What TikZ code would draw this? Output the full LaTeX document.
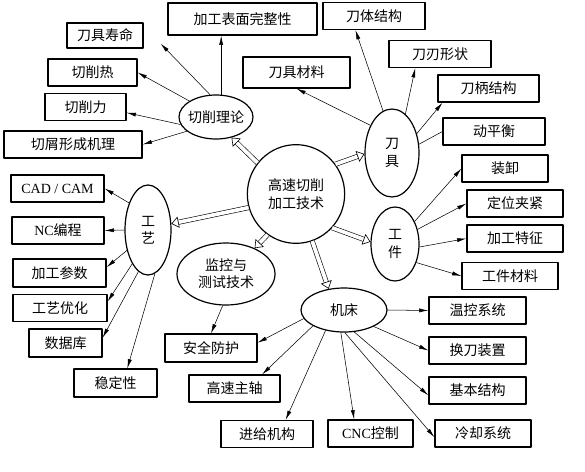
\documentclass[tikz,border=0pt]{standalone}
\usepackage{fontspec}
\setmainfont{Liberation Serif}
\newfontfamily\cjk{Noto Sans CJK SC}
\usetikzlibrary{shapes.geometric,arrows.meta,calc}
\tikzset{
	kuang/.style={draw,line width=0.9pt,inner sep=0pt,minimum height=20.25pt},
	tuoyuan/.style={draw,ellipse,line width=0.9pt,inner sep=0pt,align=center},
	jian/.style={->,line width=0.4pt},
	kong/.style={double,double distance=2.8pt,line width=0.45pt,-{Triangle[open,length=5.5pt,width=8.5pt]}}
}
\begin{document}
\begin{tikzpicture}[x=0.75pt,y=-0.75pt,line join=round,font=\cjk\fontsize{10.5}{13}\selectfont,>={Latex[length=7pt,width=3pt]}]
	\useasboundingbox (0,0) rectangle (585,471);
	\node[tuoyuan,minimum width=73pt,minimum height=74pt] (gs) at (296,194) {高速切削\\加工技术};
	\node[tuoyuan,minimum width=55.5pt,minimum height=33pt,inner xsep=-1.4pt] (ll) at (216,117) {切削理论};
	\node[tuoyuan,minimum width=40.5pt,minimum height=66pt] (dj) at (392,153) {刀\\具};
	\node[tuoyuan,minimum width=36pt,minimum height=55.5pt] (gj) at (395,244) {工\\件};
	\node[tuoyuan,minimum width=64.5pt,minimum height=33pt] (jc) at (344,310) {机床};
	\node[tuoyuan,minimum width=73.5pt,minimum height=46.5pt] (jk) at (226,274) {监控与\\测试技术};
	\node[tuoyuan,minimum width=34.5pt,minimum height=67.5pt] (gy) at (148,230) {工\\艺};
	
	\node[kuang,minimum width=111.75pt,minimum height=24pt] (wzx) at (242.5,19) {加工表面完整性};
	\node[kuang,minimum width=57pt,minimum height=18.75pt] (smu) at (105,35.5) {刀具寿命};
	\node[kuang,minimum width=66.75pt] (qxr) at (92.5,72.5) {切削热};
	\node[kuang,minimum width=60.75pt] (qxl) at (85.5,107) {切削力};
	\node[kuang,minimum width=103.5pt] (qxjl) at (73,144.5) {切屑形成机理};
	\node[kuang,minimum width=80.25pt,minimum height=23.25pt] (djcl) at (296.5,72.5) {刀具材料};
	\node[kuang,minimum width=76.5pt] (dtjg) at (374,16) {刀体结构};
	\node[kuang,minimum width=76.5pt] (drxz) at (440,54) {刀刃形状};
	\node[kuang,minimum width=75.75pt] (dbjg) at (488.5,88.5) {刀柄结构};
	\node[kuang,minimum width=76.5pt] (dph) at (494,131.5) {动平衡};
	\node[kuang,minimum width=64.5pt] (zx) at (505,168.5) {装卸};
	\node[kuang,minimum width=72pt] (dwjj) at (515,203.5) {定位夹紧};
	\node[kuang,minimum width=72pt] (jgtz) at (515,238.5) {加工特征};
	\node[kuang,minimum width=72pt] (gjcl) at (510,276) {工件材料};
	\node[kuang,minimum width=72.75pt] (wkxt) at (477.5,310.5) {温控系统};
	\node[kuang,minimum width=72.75pt] (hdzz) at (477.5,350.5) {换刀装置};
	\node[kuang,minimum width=72.75pt] (jbjg) at (477.5,390.5) {基本结构};
	\node[kuang,minimum width=72pt] (lqxt) at (483,433.5) {冷却系统};
	\node[kuang,minimum width=63.75pt] (cnc) at (370.5,433.5) {{\rmfamily CNC}控制};
	\node[kuang,minimum width=69pt] (jgjg) at (267,434) {进给机构};
	\node[kuang,minimum width=68.25pt] (gszz) at (234.5,388.5) {高速主轴};
	\node[kuang,minimum width=69pt,minimum height=21pt] (aqfh) at (211,348) {安全防护};
	\node[kuang,minimum width=62.25pt,minimum height=21pt] (wdx) at (115.5,383) {稳定性};
	\node[kuang,minimum width=54.75pt,minimum height=21pt] (sjk) at (65.5,343) {数据库};
	\node[kuang,minimum width=70.5pt] (gyyh) at (60,308) {工艺优化};
	\node[kuang,minimum width=69.75pt,minimum height=21pt] (jgcs) at (59.5,273) {加工参数};
	\node[kuang,minimum width=69pt] (nc) at (58,230.5) {{\rmfamily NC}编程};
	\node[kuang,minimum width=69.75pt] (cad) at (57.5,188.5) {{\rmfamily CAD / CAM}};
	
	\coordinate (smuj) at ($(smu.south east)+(17,-5)$);
	\draw[jian] (ll.105) -- (smuj);
	\draw[jian] (ll.77) -- (ll.77 |- wzx.south);
	\draw[jian] (ll.149) -- (qxr.east);
	\draw[jian] (ll.192) -- ($(qxl.north east)!0.7!(qxl.south east)$);
	\draw[jian] (ll.206) -- (qxjl.east);
	
	\draw[jian] (dj.102) -- ($(dtjg.south west)!0.32!(dtjg.south east)$);
	\draw[jian] (dj.71) -- ($(drxz.south west)!0.26!(drxz.south east)$);
	\draw[jian] (dj.38) -- ($(dbjg.south west)!0.05!(dbjg.south east)$);
	\draw[line width=0.4pt] (dj.18) -- (dph.west);
	\draw[jian] (dj.128) -- (djcl.south);
	
	\draw[jian] (gj.49) -- (zx.west);
	\draw[jian] (gj.33) -- (dwjj.west);
	\draw[jian] (gj.353) -- (jgtz.west);
	\draw[jian] (gj.319) -- (gjcl.west);
	
	\draw[jian] (jc.east) -- (wkxt.west);
	\draw[jian] (jc.331) -- (hdzz.west);
	\draw[jian] (jc.295) -- ($(jbjg.north west)!0.67!(jbjg.south west)$);
	\draw[jian] (jc.272) -- ($(lqxt.north west)!0.63!(lqxt.south west)$);
	\draw[jian] (jc.262) -- ($(cnc.north west)!0.31!(cnc.north east)$);
	\draw[jian] (jc.228) -- ($(jgjg.north west)!0.7!(jgjg.north east)$);
	\draw[jian] (jc.207) -- ($(gszz.north west)!0.8!(gszz.north east)$);
	\draw[jian] (jc.192) -- ($(aqfh.north east)!0.32!(aqfh.south east)$);
	
	\draw[jian] (jk.264) -- (aqfh.north);
	
	\draw[jian] (gy.125) -- (cad.east);
	\draw[jian] (gy.west) -- (nc.east);
	\draw[jian] (gy.224) -- ($(jgcs.north east)!0.3!(jgcs.south east)$);
	\draw[jian] (gy.245) -- ($(gyyh.north east)!0.27!(gyyh.south east)$);
	\draw[jian] (gy.257) -- ($(sjk.north east)!0.32!(sjk.south east)$);
	\draw[jian] (gy.279) -- ($(wdx.north west)!0.64!(wdx.north east)$);
	
	\draw[kong] (gs.141) -- (ll.-53);
	\draw[kong] (gs.37) -- (dj.182);
	\draw[kong] (gs.196) -- (gy.15);
	\draw[kong] (gs.235) -- (jk.42);
	\draw[kong] (gs.317) -- (gj.175);
	\draw[kong] (gs.289) -- (jc.126);
\end{tikzpicture}
\end{document}
